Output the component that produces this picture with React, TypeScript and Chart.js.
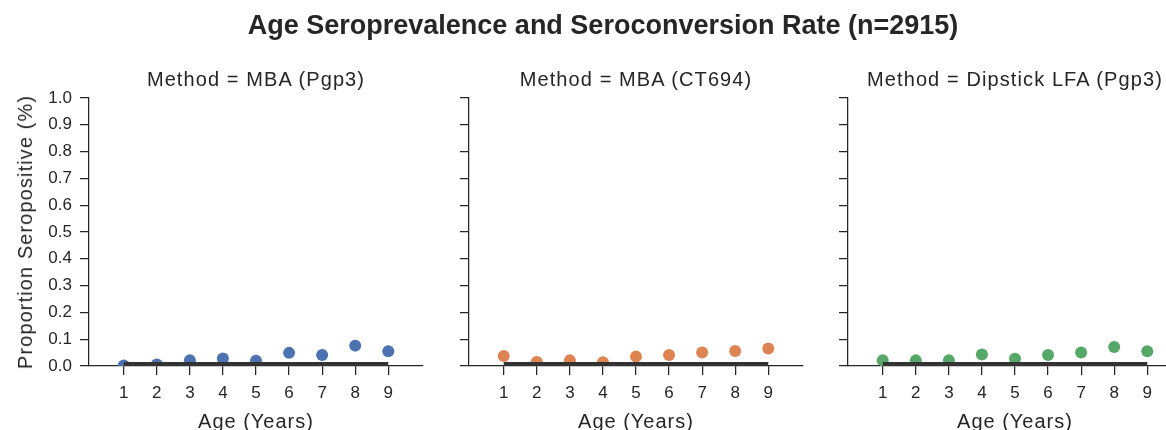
import React, { useEffect, useRef } from "react";
import { Chart, registerables } from "chart.js";

Chart.register(...registerables);

// ---------------- data ----------------
const AGES = [1, 2, 3, 4, 5, 6, 7, 8, 9];
const X_TICKS = [1, 2, 3, 4, 5, 6, 7, 8, 9];
const Y_TICKS = [0, 0.1, 0.2, 0.3, 0.4, 0.5, 0.6, 0.7, 0.8, 0.9, 1.0];

const MAIN_TITLE = "Age Seroprevalence and Seroconversion Rate (n=2915)";
const PANEL_TITLES = ["Method = MBA (Pgp3)", "Method = MBA (CT694)", "Method = Dipstick LFA (Pgp3)"];
const X_TITLE = "Age (Years)";
const Y_TITLE = "Proportion Seropositive (%)";

const MBA_PGP3 = [0.002, 0.006, 0.021, 0.028, 0.020, 0.049, 0.041, 0.076, 0.055];
const MBA_CT694 = [0.037, 0.015, 0.021, 0.014, 0.035, 0.041, 0.050, 0.056, 0.065];
const LFA_PGP3 = [0.021, 0.021, 0.021, 0.043, 0.027, 0.041, 0.050, 0.071, 0.055];

const SCR_MBA_PGP3 = [0.004, 0.004, 0.004, 0.004, 0.004, 0.004, 0.004, 0.004, 0.004];
const SCR_MBA_CT694 = [0.004, 0.004, 0.004, 0.004, 0.004, 0.004, 0.004, 0.004, 0.004];
const SCR_LFA_PGP3 = [0.004, 0.004, 0.004, 0.004, 0.004, 0.004, 0.004, 0.004, 0.004];

const SERIES = [MBA_PGP3, MBA_CT694, LFA_PGP3];
const RATES = [SCR_MBA_PGP3, SCR_MBA_CT694, SCR_LFA_PGP3];
const COLORS = ["#4C72B0", "#DD8452", "#55A868"];

// ---------------- layout ----------------
const FONT = "'Liberation Sans', Arial, Helvetica, sans-serif";
const INK = "#262626";
const AXIS_LEFTS = [89, 469, 848];
const AXIS_W = 334;
const AREA_TOP = 98;
const AREA_BOTTOM = 366;
const H = 430;
const Y_AXIS_W = 89;
const RIGHT_PAD = 10;

function Panel({ idx }: { idx: number }) {
  const ref = useRef<HTMLCanvasElement | null>(null);
  const canvasW = Y_AXIS_W + AXIS_W + RIGHT_PAD;
  useEffect(() => {
    if (!ref.current) return;
    const values = SERIES[idx];
    const rate = RATES[idx];
    const color = COLORS[idx];
    const showY = idx === 0;
    const chart = new Chart(ref.current, {
      type: "scatter",
      data: {
        datasets: [
          {
            type: "line",
            data: AGES.map((a, i) => ({ x: a, y: rate[i] })),
            borderColor: "#333333",
            borderWidth: 6,
            pointRadius: 0,
            fill: false,
            tension: 0,
            order: 0,
            clip: 0,
          } as any,
          {
            type: "scatter",
            data: AGES.map((a, i) => ({ x: a, y: values[i] })),
            backgroundColor: color,
            borderColor: color,
            borderWidth: 0,
            pointRadius: 6,
            pointHoverRadius: 6,
            order: 1,
            clip: 0,
          } as any,
        ],
      },
      options: {
        responsive: false,
        animation: false,
        events: [],
        layout: { padding: { top: AREA_TOP, right: RIGHT_PAD, bottom: 0, left: 0 } },
        plugins: {
          legend: { display: false },
          tooltip: { enabled: false },
          title: { display: false },
        },
        scales: {
          x: {
            type: "linear",
            min: -0.05,
            max: 10.05,
            afterBuildTicks: (s: any) => {
              s.ticks = X_TICKS.map((v) => ({ value: v }));
            },
            afterFit: (s: any) => {
              s.height = H - AREA_BOTTOM;
            },
            ticks: {
              autoSkip: false,
              maxRotation: 0,
              padding: 8,
              color: INK,
              font: { family: FONT, size: 17 },
              callback: (v: any) => String(v),
            },
            grid: {
              drawOnChartArea: false,
              drawTicks: true,
              tickLength: 9,
              color: INK,
              lineWidth: 1.25,
            },
            border: { display: true, color: INK, width: 1.25 },
          },
          y: {
            type: "linear",
            min: 0,
            max: 1,
            afterBuildTicks: (s: any) => {
              s.ticks = Y_TICKS.map((v) => ({ value: v }));
            },
            afterFit: (s: any) => {
              s.width = Y_AXIS_W;
            },
            ticks: {
              autoSkip: false,
              padding: 8,
              color: INK,
              font: { family: FONT, size: 17 },
              callback: (v: any) => (showY ? Number(v).toFixed(1) : ""),
            },
            grid: {
              drawOnChartArea: false,
              drawTicks: true,
              tickLength: 9,
              color: INK,
              lineWidth: 1.25,
            },
            border: { display: true, color: INK, width: 1.25 },
          },
        },
      } as any,
    });
    return () => chart.destroy();
  }, [idx]);
  return (
    <canvas
      ref={ref}
      width={canvasW}
      height={H}
      style={{
        position: "absolute",
        left: AXIS_LEFTS[idx] - Y_AXIS_W,
        top: 0,
        width: canvasW,
        height: H,
      }}
    />
  );
}

function Label({
  x,
  y,
  size,
  bold,
  spacing,
  rotate,
  children,
}: {
  x: number;
  y: number;
  size: number;
  bold?: boolean;
  spacing?: number;
  rotate?: boolean;
  children: React.ReactNode;
}) {
  const base: React.CSSProperties = {
    position: "absolute",
    fontFamily: FONT,
    fontSize: size,
    fontWeight: bold ? 700 : 400,
    lineHeight: `${size}px`,
    letterSpacing: spacing ? `${spacing}px` : undefined,
    color: INK,
    whiteSpace: "nowrap",
  };
  if (rotate) {
    return (
      <div
        style={{
          ...base,
          left: x,
          top: y,
          transform: "translate(-50%, -50%) rotate(-90deg)",
        }}
      >
        {children}
      </div>
    );
  }
  return (
    <div
      style={{
        ...base,
        left: x,
        top: y - 0.8465 * size,
        transform: "translateX(-50%)",
      }}
    >
      {children}
    </div>
  );
}

export default function App() {
  return (
    <div
      style={{
        position: "fixed",
        left: 0,
        top: 0,
        width: 1166,
        height: H,
        overflow: "hidden",
        background: "#ffffff",
      }}
    >
      {[0, 1, 2].map((i) => (
        <Panel key={i} idx={i} />
      ))}
      <Label x={603} y={35} size={27} bold>
        {MAIN_TITLE}
      </Label>
      {PANEL_TITLES.map((t, i) => (
        <Label key={t} x={AXIS_LEFTS[i] + AXIS_W / 2} y={86} size={20} spacing={1.1}>
          {t}
        </Label>
      ))}
      {AXIS_LEFTS.map((l, i) => (
        <Label key={"x" + i} x={l + AXIS_W / 2} y={428} size={20} spacing={1}>
          {X_TITLE}
        </Label>
      ))}
      <Label x={24.5} y={(AREA_TOP + AREA_BOTTOM) / 2} size={20} spacing={1.1} rotate>
        {Y_TITLE}
      </Label>
    </div>
  );
}
